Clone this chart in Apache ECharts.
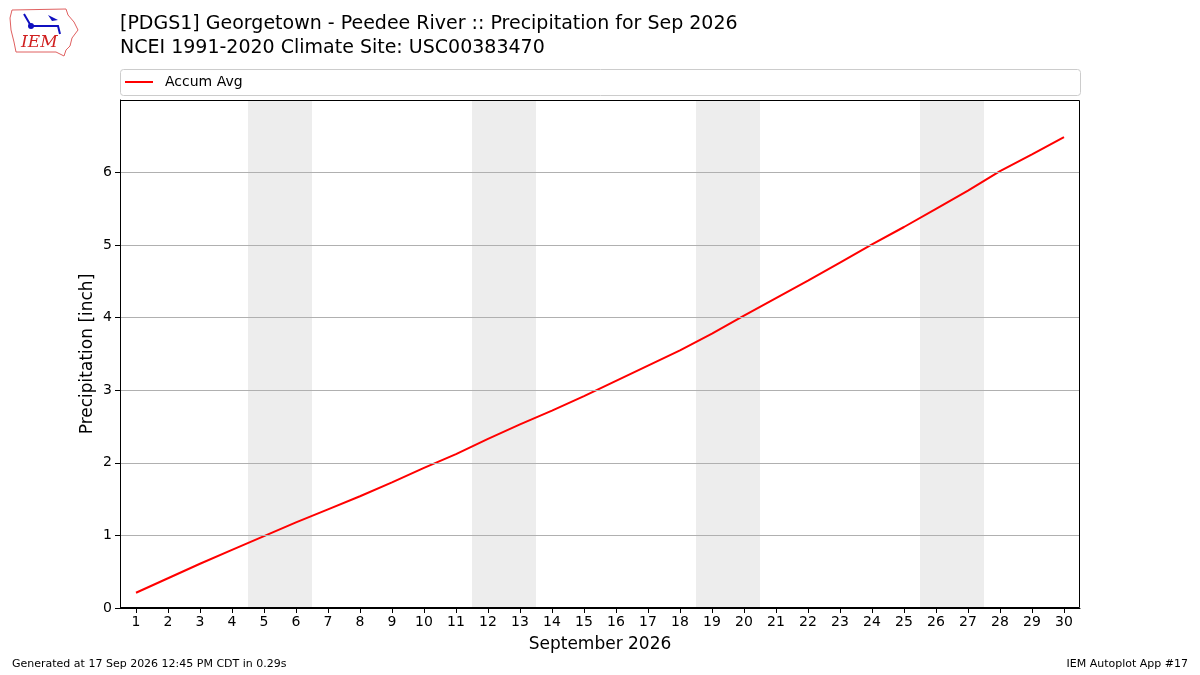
<!DOCTYPE html>
<html>
<head>
<meta charset="utf-8">
<script src="https://cdn.jsdelivr.net/npm/echarts@6/dist/echarts.min.js"></script>
<style>
  html, body { margin: 0; padding: 0; background: #fff; }
  #chart { width: 1200px; height: 675px; }
</style>
</head>
<body>
<div id="chart"></div>
<script>
// 九月每日日期
const days = Array.from({ length: 30 }, (_, i) => i + 1);
// 累计平均降水 (inch)
const accumAvg = [
    0.21, 0.41, 0.61, 0.80, 0.99, 1.18, 1.36, 1.54, 1.73, 1.93,
    2.12, 2.33, 2.53, 2.72, 2.92, 3.13, 3.34, 3.55, 3.78, 4.03,
    4.27, 4.51, 4.76, 5.01, 5.25, 5.50, 5.75, 6.02, 6.25, 6.49
];
// 周末 (阴影)
const weekends = [[5, 6], [12, 13], [19, 20], [26, 27]];
const yTicks = [0, 1, 2, 3, 4, 5, 6];

const font = 'DejaVu Sans';
const chart = echarts.init(document.getElementById('chart'));

const option = {
    backgroundColor: '#fff',
    animation: false,
    textStyle: { fontFamily: font },
    title: {
        text: '[PDGS1] Georgetown - Peedee River :: Precipitation for Sep 2026\nNCEI 1991-2020 Climate Site: USC00383470',
        left: 120,
        top: 12,
        padding: 0,
        textStyle: { fontFamily: font, fontSize: 19, fontWeight: 'normal', color: '#000', lineHeight: 24 }
    },
    legend: {
        left: 125,
        top: 75,
        padding: 0,
        itemWidth: 28,
        itemHeight: 2,
        icon: 'rect',
        data: ['Accum Avg'],
        textStyle: { fontFamily: font, fontSize: 14, color: '#000', padding: [0, 0, 0, 7] }
    },
    grid: {
        left: 120,
        right: 120,
        top: 100,
        bottom: 67
    },
    xAxis: [
        {
            type: 'value',
            min: 0.5,
            max: 30.5,
            show: false
        },
        {
            type: 'category',
            data: days.map(String),
            position: 'bottom',
            boundaryGap: true,
            z: 10,
            axisLine: { show: true, lineStyle: { color: '#000' } },
            axisTick: { show: true, alignWithLabel: true, length: 5, lineStyle: { color: '#000' } },
            axisLabel: { color: '#000', fontSize: 14, margin: 7, interval: 0 },
            splitLine: { show: false },
            name: 'September 2026',
            nameLocation: 'middle',
            nameGap: 28,
            nameTextStyle: { fontFamily: font, fontSize: 17, color: '#000' }
        }
    ],
    yAxis: {
        type: 'value',
        min: 0,
        max: 7,
        interval: 1,
        z: 10,
        axisLine: { show: true, lineStyle: { color: '#000' } },
        axisTick: { show: true, length: 5, customValues: yTicks, lineStyle: { color: '#000' } },
        axisLabel: {
            color: '#000',
            fontSize: 14,
            margin: 8,
            formatter: v => (yTicks.includes(v) ? String(v) : '')
        },
        splitLine: { show: true, lineStyle: { color: '#b0b0b0', width: 1 } },
        name: 'Precipitation [inch]',
        nameLocation: 'middle',
        nameGap: 24,
        nameMoveOverlap: false,
        nameRotate: 90,
        nameTextStyle: { fontFamily: font, fontSize: 17, color: '#000' }
    },
    series: [
        {
            name: 'Accum Avg',
            type: 'line',
            xAxisIndex: 0,
            data: days.map((d, i) => [d, accumAvg[i]]),
            showSymbol: false,
            symbol: 'none',
            lineStyle: { color: '#ff0000', width: 2 },
            itemStyle: { color: '#ff0000' },
            z: 3,
            markArea: {
                silent: true,
                itemStyle: { color: '#ededed' },
                data: weekends.map(w => [{ xAxis: w[0] - 0.5 }, { xAxis: w[1] + 0.5 }])
            }
        }
    ],
    graphic: [
        {
            type: 'rect',
            silent: true,
            shape: { x: 120.5, y: 100.5, width: 959, height: 507 },
            style: { fill: 'transparent', stroke: '#000', lineWidth: 1 },
            z: 100
        },
        {
            type: 'rect',
            shape: { x: 120.5, y: 69.5, width: 960, height: 26, r: 3 },
            style: { fill: 'transparent', stroke: '#cccccc', lineWidth: 1 },
            z: 1
        },
        {
            type: 'polyline',
            shape: {
                points: [[12, 10], [66, 9], [68, 15], [74, 22], [78, 30], [72, 38], [70, 46], [66, 50], [64, 56], [56, 52], [16, 52], [14, 42], [11, 30], [10, 18], [12, 10]]
            },
            style: { stroke: '#e06060', fill: 'transparent', lineWidth: 1 }
        },
        {
            type: 'polyline',
            shape: { points: [[24, 14], [31, 26], [58, 26], [60, 34]] },
            style: { stroke: '#1010c0', fill: 'transparent', lineWidth: 2 }
        },
        {
            type: 'circle',
            shape: { cx: 31, cy: 26, r: 3 },
            style: { fill: '#1010c0' }
        },
        {
            type: 'polygon',
            shape: { points: [[48, 15], [58, 20], [52, 21]] },
            style: { fill: '#1010c0' }
        },
        {
            type: 'text',
            left: 21,
            top: 34,
            style: { text: 'IEM', font: 'italic 17px "DejaVu Serif", serif', fill: '#d02020' }
        },
        {
            type: 'text',
            left: 12,
            top: 659,
            style: { text: 'Generated at 17 Sep 2026 12:45 PM CDT in 0.29s', font: '11px "DejaVu Sans"', fill: '#000' }
        },
        {
            type: 'text',
            right: 12,
            top: 659,
            style: { text: 'IEM Autoplot App #17', font: '11px "DejaVu Sans"', fill: '#000' }
        }
    ]
};

chart.setOption(option);
</script>
</body>
</html>
